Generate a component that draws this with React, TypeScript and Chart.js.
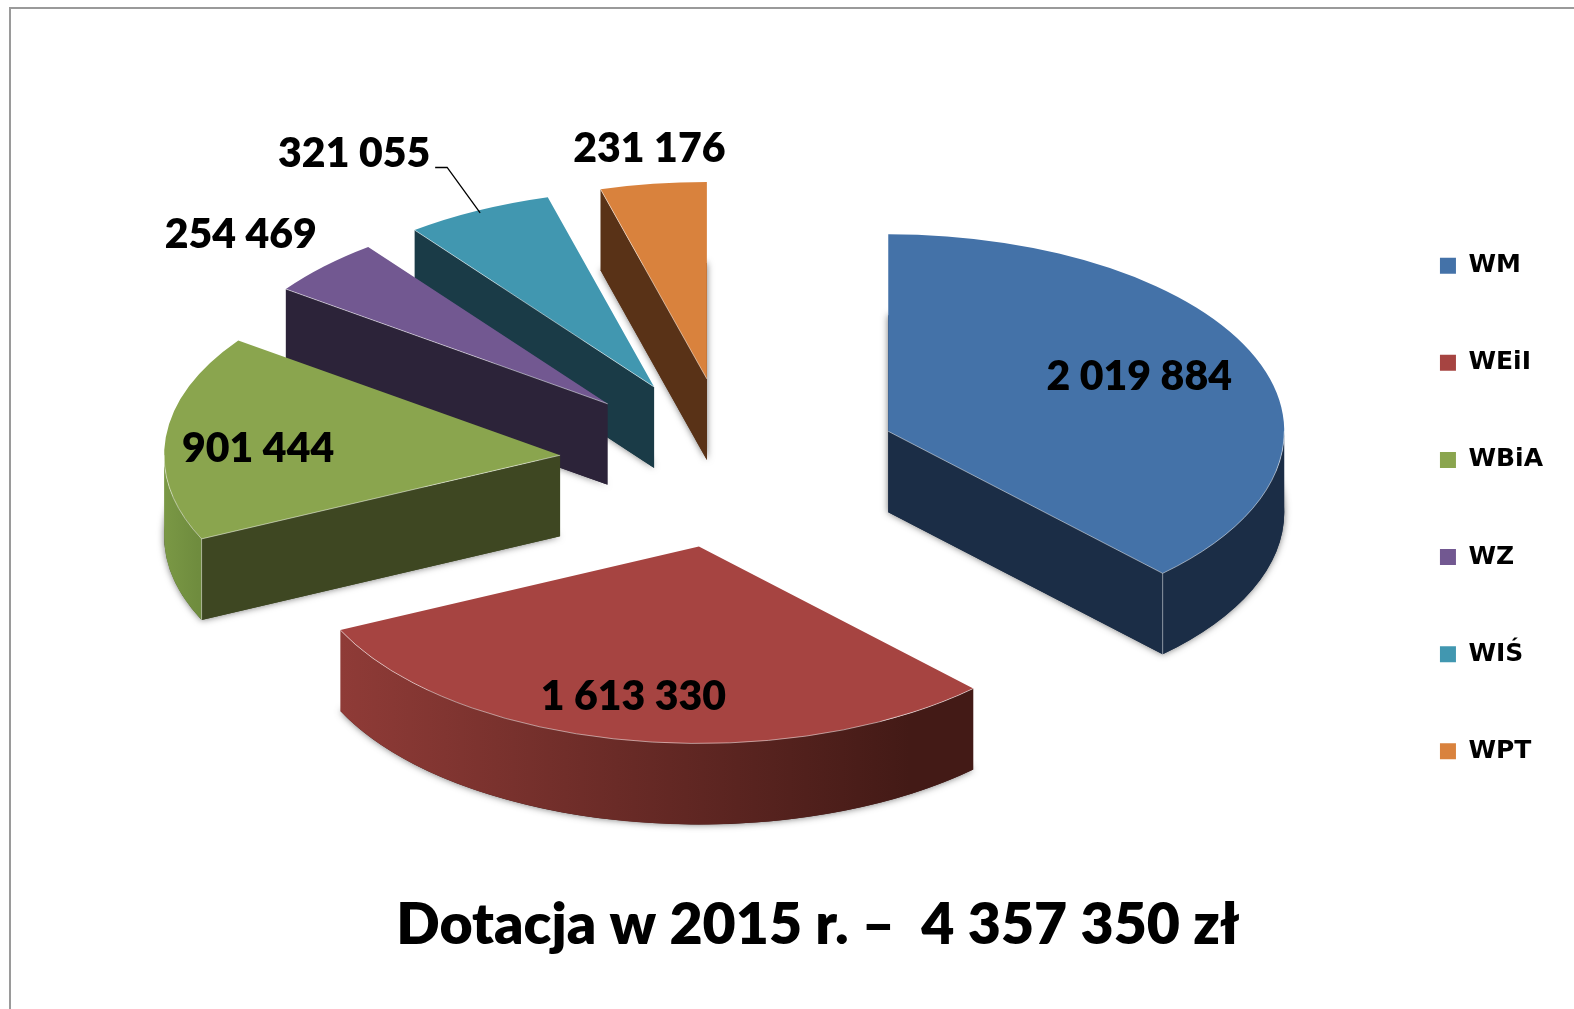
import React, { useEffect, useRef } from "react";
import { Chart, registerables } from "chart.js";

Chart.register(...registerables);

// ---- data ----
const categories = ["WM", "WEiI", "WBiA", "WZ", "WIŚ", "WPT"];
const values = [2019884, 1613330, 901444, 254469, 321055, 231176];
const chartTitle = "Dotacja w 2015 r. –  4 357 350 zł";

// ---- styles ----
const topColors = ["#4472a8", "#a64441", "#8aa54e", "#725891", "#4197b0", "#d9823d"];
const faceColors = ["#1b2d46", "#3f1a17", "#3e4722", "#2c2339", "#1a3b47", "#593217"];
const wallLeftColors = ["#1b2d46", "#8f3b37", "#7a9845", "#2c2339", "#1a3b47", "#593217"];
const wallRightColors = ["#1b2d46", "#431a16", "#6f8c3e", "#2c2339", "#1a3b47", "#593217"];
const labelOffsets: [number, number][] = [
  [251, -55],
  [-65.5, 150],
  [-302, -6],
  [-367, -169],
  [-300, -233],
  [-57.5, -230],
];
const paintOrder = [5, 4, 3, 2, 1, 0];
const leaderSlice = 4;
const leaderOffsets: [number, number][] = [
  [-219, -219.5],
  [-207, -219.5],
  [-174, -174],
];

const pieCentre = { x: 730, y: 463 };
const squash = 0.4975;
const depth = 81;
const explode = 170.6;
const labelFont = "800 41px Lato";

const fmt = (v: number) => String(v).replace(/\B(?=(\d{3})+(?!\d))/g, " ");

function base(chart: any) {
  const a = chart.chartArea;
  return { x: (a.left + a.right) / 2, y: (a.top + a.bottom) / 2 };
}

function geometry(chart: any, arc: any) {
  const b = base(chart);
  return {
    cx: pieCentre.x + (arc.x - b.x),
    cy: pieCentre.y + (arc.y - b.y) * squash,
    r: arc.outerRadius,
    a0: arc.startAngle,
    a1: arc.endAngle,
  };
}

const pie3d = {
  id: "pie3d",
  afterDatasetUpdate(chart: any) {
    const b = base(chart);
    chart.getDatasetMeta(0).data.forEach((arc: any) => {
      const half = (arc.startAngle + arc.endAngle) / 2;
      arc.x = b.x + Math.cos(half) * explode;
      arc.y = b.y + Math.sin(half) * explode;
    });
  },
  beforeDatasetsDraw(chart: any) {
    const { ctx } = chart;
    const arcs = chart.getDatasetMeta(0).data;
    const ry = (g: any) => g.r * squash;

    paintOrder.forEach((i) => {
      const g = geometry(chart, arcs[i]);
      const rim = (a: number) => [g.cx + g.r * Math.cos(a), g.cy + ry(g) * Math.sin(a)];

      // soft shadow cast by the underside of the slice
      ctx.save();
      ctx.shadowColor = "rgba(0,0,0,0.55)";
      ctx.shadowBlur = 7;
      ctx.fillStyle = faceColors[i];
      ctx.beginPath();
      ctx.moveTo(g.cx, g.cy + depth);
      ctx.ellipse(g.cx, g.cy + depth, g.r, ry(g), 0, g.a0, g.a1);
      ctx.closePath();
      ctx.fill();
      ctx.restore();

      // cut faces
      const face = (a: number) => {
        const [x, y] = rim(a);
        ctx.fillStyle = faceColors[i];
        ctx.beginPath();
        ctx.moveTo(g.cx, g.cy);
        ctx.lineTo(x, y);
        ctx.lineTo(x, y + depth);
        ctx.lineTo(g.cx, g.cy + depth);
        ctx.closePath();
        ctx.fill();
      };
      if (Math.cos(g.a0) < -1e-6) face(g.a0);
      if (Math.cos(g.a1) > 1e-6) face(g.a1);

      // curved outer wall, only on the front half
      const w0 = Math.max(g.a0, 0);
      const w1 = Math.min(g.a1, Math.PI);
      if (w0 < w1) {
        const xs = [rim(w0)[0], rim(w1)[0]];
        const grad = ctx.createLinearGradient(Math.min(...xs), 0, Math.max(...xs), 0);
        grad.addColorStop(0, wallLeftColors[i]);
        grad.addColorStop(0.9, wallRightColors[i]);
        grad.addColorStop(1, wallRightColors[i]);
        ctx.fillStyle = grad;
        ctx.beginPath();
        ctx.ellipse(g.cx, g.cy, g.r, ry(g), 0, w0, w1);
        ctx.ellipse(g.cx, g.cy + depth, g.r, ry(g), 0, w1, w0, true);
        ctx.closePath();
        ctx.fill();
      }
    });

    // top faces are drawn by Chart.js, squashed onto the same ellipse
    const b = base(chart);
    ctx.save();
    ctx.translate(pieCentre.x, pieCentre.y);
    ctx.scale(1, squash);
    ctx.translate(-b.x, -b.y);
  },
  afterDatasetsDraw(chart: any) {
    const { ctx } = chart;
    ctx.restore();
    const arcs = chart.getDatasetMeta(0).data;

    // thin light edges between top face and walls
    ctx.save();
    ctx.strokeStyle = "rgba(255,255,255,0.5)";
    ctx.lineWidth = 1;
    arcs.forEach((arc: any) => {
      const g = geometry(chart, arc);
      const ry = g.r * squash;
      const rim = (t: number) => [g.cx + g.r * Math.cos(t), g.cy + ry * Math.sin(t)];
      const edge = (t: number) => {
        const [x, y] = rim(t);
        ctx.beginPath();
        ctx.moveTo(g.cx, g.cy);
        ctx.lineTo(x, y);
        ctx.stroke();
      };
      const showStart = Math.cos(g.a0) < -1e-6;
      const showEnd = Math.cos(g.a1) > 1e-6;
      if (showStart) edge(g.a0);
      if (showEnd) edge(g.a1);
      const w0 = Math.max(g.a0, 0);
      const w1 = Math.min(g.a1, Math.PI);
      if (w0 < w1) {
        ctx.beginPath();
        ctx.ellipse(g.cx, g.cy, g.r, ry, 0, w0, w1);
        ctx.stroke();
        const corner = (t: number) => {
          const [x, y] = rim(t);
          ctx.beginPath();
          ctx.moveTo(x, y);
          ctx.lineTo(x, y + depth);
          ctx.stroke();
        };
        if (showStart && w0 === g.a0) corner(w0);
        if (showEnd && w1 === g.a1) corner(w1);
      }
    });
    ctx.restore();

    // value labels
    ctx.save();
    ctx.font = labelFont;
    ctx.fillStyle = "#000";
    ctx.textAlign = "center";
    ctx.textBaseline = "middle";
    arcs.forEach((arc: any, i: number) => {
      const g = geometry(chart, arc);
      ctx.fillText(fmt(values[i]), g.cx + labelOffsets[i][0], g.cy + labelOffsets[i][1]);
    });
    // leader line
    const lg = geometry(chart, arcs[leaderSlice]);
    ctx.strokeStyle = "#000";
    ctx.lineWidth = 1.3;
    ctx.beginPath();
    leaderOffsets.forEach(([dx, dy], k) => {
      if (k === 0) ctx.moveTo(lg.cx + dx, lg.cy + dy);
      else ctx.lineTo(lg.cx + dx, lg.cy + dy);
    });
    ctx.stroke();
    ctx.restore();
  },
};

export default function App() {
  const ref = useRef<HTMLCanvasElement>(null);
  useEffect(() => {
    const chart = new Chart(ref.current as HTMLCanvasElement, {
      type: "pie",
      data: {
        labels: categories,
        datasets: [
          {
            data: values,
            backgroundColor: topColors,
            borderWidth: 0,
            clip: false,
          } as any,
        ],
      },
      options: {
        responsive: false,
        animation: false,
        radius: 396,
        events: [],
        layout: { padding: { left: 83, right: 21, top: 8, bottom: 0 } },
        plugins: {
          tooltip: { enabled: false },
          legend: {
            position: "right",
            labels: {
              boxWidth: 16,
              boxHeight: 16,
              padding: 72.1,
              color: "#000",
              font: { family: "'DejaVu Sans'", weight: "bold", size: 25 },
            },
          },
          title: {
            display: true,
            position: "bottom",
            text: chartTitle,
            color: "#000",
            font: { family: "Lato", weight: "800", size: 57.2 },
            padding: { top: 0, bottom: 49 },
          },
        },
      } as any,
      plugins: [pie3d as any],
    });
    return () => chart.destroy();
  }, []);

  return (
    <div style={{ position: "absolute", left: 0, top: 0, width: 1574, height: 1009, overflow: "hidden", background: "#fff" }}>
      <canvas ref={ref} width={1574} height={1009} style={{ display: "block" }} />
      <div
        style={{
          position: "absolute",
          left: 9,
          top: 7,
          right: -4,
          bottom: -4,
          borderTop: "2px solid #9a9a9a",
          borderLeft: "2px solid #9a9a9a",
          pointerEvents: "none",
        }}
      />
    </div>
  );
}
